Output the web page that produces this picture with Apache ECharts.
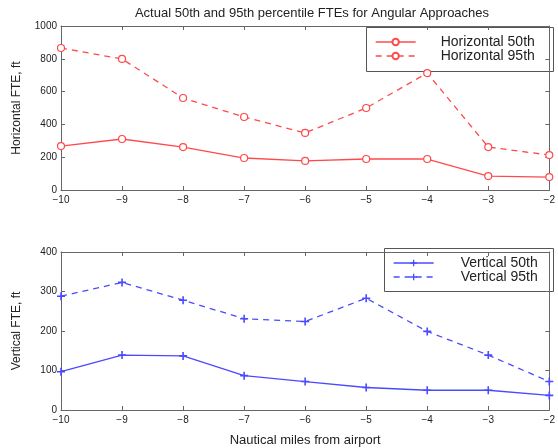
<!DOCTYPE html>
<html>
<head>
<meta charset="utf-8">
<script src="https://cdn.jsdelivr.net/npm/echarts@6/dist/echarts.min.js"></script>
<style>
  html, body { margin: 0; padding: 0; background: #fff; }
  #chart { width: 558px; height: 448px; }
</style>
</head>
<body>
<div id="chart"></div>
<script>
// nautical miles from airport
const miles = [-10, -9, -8, -7, -6, -5, -4, -3, -2];

// FTE values (ft)
const horiz50 = [268, 311, 262, 195, 177, 189, 189, 85, 79];
const horiz95 = [866, 799, 561, 445, 348, 500, 713, 262, 213];
const vert50 = [97, 139, 137, 87, 72, 57, 50, 50, 37];
const vert95 = [288, 323, 278, 231, 224, 283, 199, 139, 72];

const FONT = 'Liberation Sans';
const AXIS_COLOR = '#666';
const RED = '#ff4a4a';
const BLUE = '#4a4aff';
const PLUS = 'path://M4,0H6V4H10V6H6V10H4V6H0V4H4Z';

const pairs = vals => miles.map((m, i) => [m, vals[i]]);
const minus = v => (v < 0 ? '\u2212' + Math.abs(v) : String(v));

function xAxis(gridIndex, position, showLabels, name) {
  return {
    type: 'value',
    gridIndex,
    position,
    min: -10,
    max: -2,
    interval: 1,
    name: name || '',
    nameLocation: 'middle',
    nameGap: 24,
    nameTextStyle: { fontFamily: FONT, fontSize: 13, color: '#222' },
    axisLine: { show: true, onZero: false, lineStyle: { color: AXIS_COLOR } },
    axisTick: { show: true, inside: true, length: 4, lineStyle: { color: AXIS_COLOR } },
    axisLabel: { show: showLabels, formatter: minus, fontFamily: FONT, fontSize: 10, color: '#222', margin: 5 },
    splitLine: { show: false },
  };
}

function yAxis(gridIndex, position, max, interval, showLabels, name) {
  return {
    type: 'value',
    gridIndex,
    position,
    min: 0,
    max,
    interval,
    name: name || '',
    nameLocation: 'middle',
    nameGap: 38,
    nameTextStyle: { fontFamily: FONT, fontSize: 12, color: '#222' },
    axisLine: { show: true, onZero: false, lineStyle: { color: AXIS_COLOR } },
    axisTick: { show: true, inside: true, length: 4, lineStyle: { color: AXIS_COLOR } },
    axisLabel: { show: showLabels, formatter: v => String(v), fontFamily: FONT, fontSize: 10, color: '#222', margin: 4 },
    splitLine: { show: false },
  };
}

function lineSeries(name, vals, xi, yi, color, dashed, symbol, size, filled) {
  return {
    name,
    type: 'line',
    xAxisIndex: xi,
    yAxisIndex: yi,
    data: pairs(vals),
    symbol,
    symbolSize: size,
    showSymbol: true,
    lineStyle: { color, width: 1.3, type: dashed ? [6, 5] : 'solid' },
    itemStyle: filled ? { color } : { color: '#fff', borderColor: color, borderWidth: 1.2 },
    emphasis: { disabled: true },
    animation: false,
  };
}

function legend(names, left, top, textPad) {
  return {
    data: names,
    orient: 'vertical',
    left,
    top,
    padding: 0,
    itemWidth: 40,
    itemHeight: 8,
    itemGap: 0,
    lineStyle: { width: 1.3 },
    textStyle: {
      fontFamily: FONT, fontSize: 14, lineHeight: 10, height: 10,
      color: '#222', padding: [0, 0, 0, textPad],
    },
  };
}

const chart = echarts.init(document.getElementById('chart'));

chart.setOption({
  animation: false,
  title: {
    text: 'Actual 50th and 95th percentile FTEs for Angular Approaches',
    left: 307,
    textAlign: 'center',
    top: 2,
    textStyle: { fontFamily: FONT, fontSize: 13, fontWeight: 'normal', color: '#222' },
  },
  grid: [
    { left: 61, top: 26, width: 492, height: 164 },
    { left: 61, top: 252, width: 492, height: 161 },
  ],
  xAxis: [
    xAxis(0, 'bottom', true),
    xAxis(0, 'top', false),
    xAxis(1, 'bottom', true, 'Nautical miles from airport'),
    xAxis(1, 'top', false),
  ],
  yAxis: [
    yAxis(0, 'left', 1000, 200, true, 'Horizontal FTE, ft'),
    yAxis(0, 'right', 1000, 200, false),
    yAxis(1, 'left', 400, 100, true, 'Vertical FTE, ft'),
    yAxis(1, 'right', 400, 100, false),
  ],
  legend: [
    legend(['Horizontal 50th', 'Horizontal 95th'], 375, 35, 20),
    legend(['Vertical 50th', 'Vertical 95th'], 393, 256, 22),
  ],
  graphic: [
    {
      type: 'rect',
      left: 366,
      top: 27,
      z: 0,
      shape: { width: 187, height: 44 },
      style: { fill: '#fff', stroke: '#555', lineWidth: 1 },
    },
    {
      type: 'rect',
      left: 384,
      top: 248,
      z: 0,
      shape: { width: 169, height: 43 },
      style: { fill: '#fff', stroke: '#555', lineWidth: 1 },
    },
  ],
  series: [
    lineSeries('Horizontal 50th', horiz50, 0, 0, RED, false, 'circle', 7, false),
    lineSeries('Horizontal 95th', horiz95, 0, 0, RED, true, 'circle', 7, false),
    lineSeries('Vertical 50th', vert50, 2, 2, BLUE, false, PLUS, 8, true),
    lineSeries('Vertical 95th', vert95, 2, 2, BLUE, true, PLUS, 8, true),
  ],
});
</script>
</body>
</html>
